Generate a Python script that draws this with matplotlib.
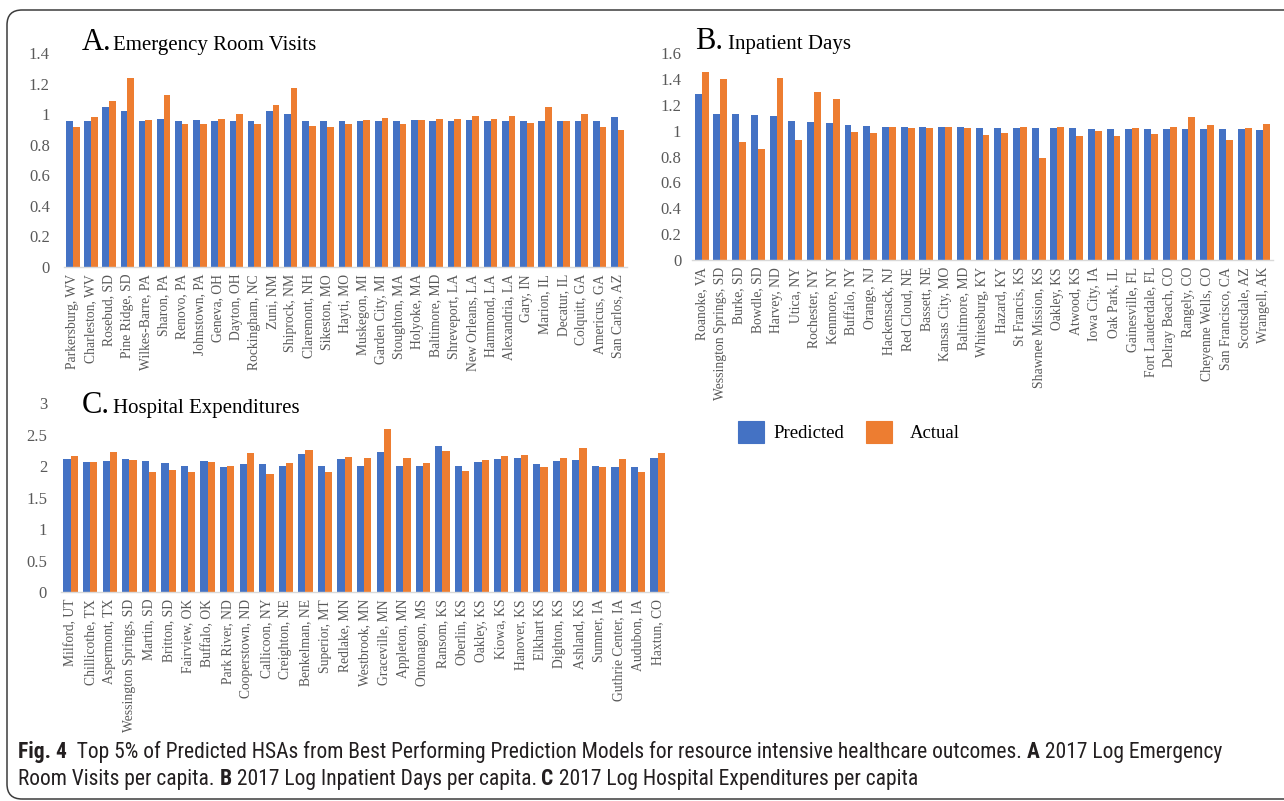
import matplotlib
matplotlib.use("Agg")
import matplotlib.pyplot as plt
from matplotlib.patches import Rectangle, FancyBboxPatch
from matplotlib.ticker import FuncFormatter
from matplotlib import font_manager
import numpy as np

# ---------------------------------------------------------------- data
er_sites = ["Parkersburg, WV", "Charleston, WV", "Rosebud, SD", "Pine Ridge, SD",
            "Wilkes-Barre, PA", "Sharon, PA", "Renovo, PA", "Johnstown, PA",
            "Geneva, OH", "Dayton, OH", "Rockingham, NC", "Zuni, NM", "Shiprock, NM",
            "Claremont, NH", "Sikeston, MO", "Hayti, MO", "Muskegon, MI",
            "Garden City, MI", "Stoughton, MA", "Holyoke, MA", "Baltimore, MD",
            "Shreveport, LA", "New Orleans, LA", "Hammond, LA", "Alexandria, LA",
            "Gary, IN", "Marion, IL", "Decatur, IL", "Colquitt, GA", "Americus, GA",
            "San Carlos, AZ"]
er_predicted = [0.955, 0.955, 1.05, 1.02, 0.955, 0.97, 0.955, 0.963, 0.955, 0.955,
                0.955, 1.02, 1.00, 0.955, 0.955, 0.955, 0.955, 0.955, 0.955, 0.963,
                0.955, 0.955, 0.963, 0.955, 0.955, 0.955, 0.955, 0.955, 0.955, 0.955,
                0.985]
er_actual = [0.92, 0.98, 1.085, 1.24, 0.965, 1.13, 0.935, 0.934, 0.97, 1.005,
             0.94, 1.06, 1.17, 0.925, 0.92, 0.935, 0.963, 0.978, 0.935, 0.963,
             0.97, 0.97, 0.99, 0.97, 0.99, 0.945, 1.045, 0.955, 1.005, 0.915,
             0.897]

ip_sites = ["Roanoke, VA", "Wessington Springs, SD", "Burke, SD", "Bowdle, SD",
            "Harvey, ND", "Utica, NY", "Rochester, NY", "Kenmore, NY", "Buffalo, NY",
            "Orange, NJ", "Hackensack, NJ", "Red Cloud, NE", "Bassett, NE",
            "Kansas City, MO", "Baltimore, MD", "Whitesburg, KY", "Hazard, KY",
            "St Francis, KS", "Shawnee Mission, KS", "Oakley, KS", "Atwood, KS",
            "Iowa City, IA", "Oak Park, IL", "Gainesville, FL", "Fort Lauderdale, FL",
            "Delray Beach, CO", "Rangely, CO", "Cheyenne Wells, CO",
            "San Francisco, CA", "Scottsdale, AZ", "Wrangell, AK"]
ip_predicted = [1.285, 1.133, 1.133, 1.125, 1.117, 1.076, 1.066, 1.058, 1.043, 1.035,
                1.032, 1.032, 1.027, 1.027, 1.027, 1.02, 1.02, 1.02, 1.02, 1.02,
                1.02, 1.012, 1.012, 1.012, 1.012, 1.012, 1.012, 1.012, 1.012, 1.012,
                1.004]
ip_actual = [1.453, 1.40, 0.91, 0.862, 1.41, 0.926, 1.30, 1.244, 0.994, 0.983,
             1.027, 1.02, 1.02, 1.027, 1.02, 0.968, 0.983, 1.027, 0.787, 1.027,
             0.96, 1.001, 0.96, 1.02, 0.978, 1.027, 1.11, 1.043, 0.929, 1.02,
             1.05]

he_sites = ["Milford, UT", "Chillicothe, TX", "Aspermont, TX", "Wessington Springs, SD",
            "Martin, SD", "Britton, SD", "Fairview, OK", "Buffalo, OK", "Park River, ND",
            "Cooperstown, ND", "Callicoon, NY", "Creighton, NE", "Benkelman, NE",
            "Superior, MT", "Redlake, MN", "Westbrook, MN", "Graceville, MN",
            "Appleton, MN", "Ontonagon, MS", "Ransom, KS", "Oberlin, KS", "Oakley, KS",
            "Kiowa, KS", "Hanover, KS", "Elkhart KS", "Dighton, KS", "Ashland, KS",
            "Sumner, IA", "Guthrie Center, IA", "Audubon, IA", "Haxtun, CO"]
he_predicted = [2.116, 2.063, 2.085, 2.116, 2.085, 2.05, 2.01, 2.085, 1.995, 2.03,
                2.03, 2.01, 2.19, 2.01, 2.116, 2.0, 2.233, 2.0, 2.0, 2.317,
                2.0, 2.063, 2.116, 2.13, 2.03, 2.08, 2.10, 2.01, 1.98, 1.99,
                2.13]
he_actual = [2.17, 2.063, 2.22, 2.10, 1.91, 1.947, 1.91, 2.07, 2.01, 2.206,
             1.878, 2.048, 2.264, 1.91, 2.14, 2.13, 2.59, 2.127, 2.05, 2.238,
             1.93, 2.10, 2.164, 2.18, 1.98, 2.137, 2.286, 1.995, 2.116, 1.91,
             2.206]

series_names = ["Predicted", "Actual"]

# ---------------------------------------------------------------- style
W, H = 1284, 801
BLUE = "#4472C4"
ORANGE = "#ED7D31"
TICK_GRAY = "#595959"
SERIF = ["Liberation Serif", "DejaVu Serif"]


def pick_font(*names):
    for n in names:
        try:
            font_manager.findfont(n, fallback_to_default=False)
            return n
        except ValueError:
            pass
    return "DejaVu Sans"


CAPTION_FONT = pick_font("Liberation Sans Narrow", "Roboto Condensed", "Lato",
                         "Roboto", "Open Sans")

fig = plt.figure(figsize=(W / 100, H / 100), dpi=100)
fig.patch.set_facecolor("white")


def px_axes(left, right, top, bottom):
    return fig.add_axes([left / W, 1 - bottom / H, (right - left) / W, (bottom - top) / H])


def draw_panel(ax, sites, pred, act, ymax, ystep, ypad):
    x = np.arange(len(sites))
    w = 0.37
    ax.bar(x - w / 2, pred, w, color=BLUE, edgecolor="none", zorder=2)
    ax.bar(x + w / 2, act, w, color=ORANGE, edgecolor="none", zorder=2)
    ax.set_xlim(-0.5, len(sites) - 0.5)
    ax.set_ylim(0, ymax)
    ax.set_yticks(np.round(np.arange(0, ymax + 1e-9, ystep), 2))
    ax.yaxis.set_major_formatter(FuncFormatter(lambda v, p: f"{v:g}"))
    ax.set_xticks(x)
    ax.set_xticklabels(sites, rotation=90, fontfamily=SERIF, fontsize=9.8,
                       color=TICK_GRAY)
    for lab in ax.get_yticklabels():
        lab.set_fontfamily(SERIF)
        lab.set_fontsize(12)
        lab.set_color(TICK_GRAY)
    ax.tick_params(axis="x", length=0, pad=5)
    ax.tick_params(axis="y", length=0, pad=ypad)
    for s in ("top", "right", "left"):
        ax.spines[s].set_visible(False)
    ax.spines["bottom"].set_color("#D9D9D9")
    ax.spines["bottom"].set_linewidth(1.0)
    ax.patch.set_alpha(0)


ax_a = px_axes(63.7, 626.8, 53.3, 267)
draw_panel(ax_a, er_sites, er_predicted, er_actual, 1.4, 0.2, 10)

ax_b = px_axes(692.3, 1272.7, 53.3, 260)
draw_panel(ax_b, ip_sites, ip_predicted, ip_actual, 1.6, 0.2, 8)

ax_c = px_axes(60.9, 667.5, 403.3, 592)
draw_panel(ax_c, he_sites, he_predicted, he_actual, 3, 0.5, 10)


# panel titles
def panel_title(x_letter, x_rest, y, letter, rest):
    fig.text(x_letter / W, 1 - y / H, letter, family=SERIF, fontsize=22,
             va="baseline", ha="left")
    fig.text(x_rest / W, 1 - y / H, rest, family=SERIF, fontsize=15,
             va="baseline", ha="left")


panel_title(82, 113, 50, "A.", "Emergency Room Visits")
panel_title(695, 728, 49, "B.", "Inpatient Days")
panel_title(82, 113, 413, "C.", "Hospital Expenditures")

# legend
for (x0, name, color, xt) in [(738, series_names[0], BLUE, 773),
                              (866, series_names[1], ORANGE, 910)]:
    fig.add_artist(Rectangle((x0 / W, 1 - 443 / H), 26 / W, 22 / H,
                             transform=fig.transFigure, facecolor=color,
                             edgecolor=color, lw=0.8))
    fig.text(xt / W, 1 - 433 / H, name, family=SERIF, fontsize=13.5,
             va="center", ha="left")

# caption
line1 = [("Fig. 4", True),
         ("  Top 5% of Predicted HSAs from Best Performing Prediction Models for "
          "resource intensive healthcare outcomes. ", False),
         ("A", True), (" 2017 Log Emergency", False)]
line2 = [("Room Visits per capita. ", False), ("B", True),
         (" 2017 Log Inpatient Days per capita. ", False), ("C", True),
         (" 2017 Log Hospital Expenditures per capita", False)]

renderer = fig.canvas.get_renderer()


def runs_width(parts, size):
    total = 0
    for s, bold in parts:
        t = fig.text(0, 0, s, fontsize=size, family=CAPTION_FONT,
                     fontweight="bold" if bold else "normal")
        total += t.get_window_extent(renderer).width
        t.remove()
    return total


cap_size = 12.5
cap_size *= 1215 / runs_width(line1, cap_size)


def draw_runs(parts, x, y, size):
    for s, bold in parts:
        t = fig.text(x / W, 1 - y / H, s, fontsize=size, family=CAPTION_FONT,
                     fontweight="bold" if bold else "normal", va="baseline",
                     color="#231F20")
        x += t.get_window_extent(renderer).width


draw_runs(line1, 18, 758, cap_size)
draw_runs(line2, 18, 785, cap_size)

# frame around the figure
fig.add_artist(FancyBboxPatch((0.07, 0.02), 14.5, 7.89,
                              boxstyle="round,pad=0,rounding_size=0.15",
                              transform=fig.dpi_scale_trans, facecolor="none",
                              edgecolor="#3C3C3C", lw=1.1))

fig.savefig("out.png", dpi=100)
